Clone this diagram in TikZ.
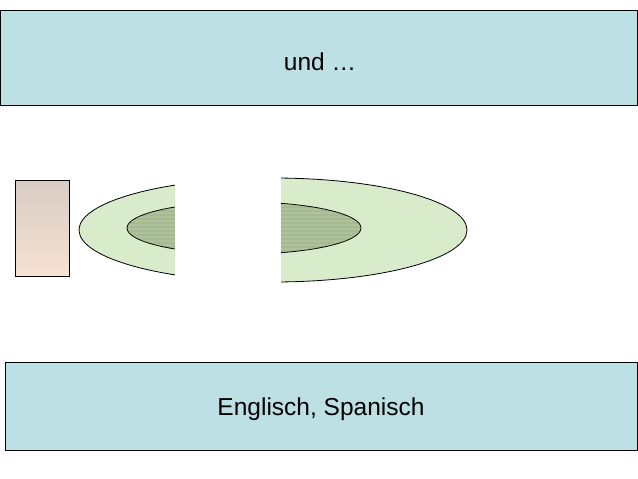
\documentclass[tikz,border=0pt]{standalone}
\usepackage{fontspec}
\setmainfont{Liberation Sans}
\usetikzlibrary{shapes.geometric}
\definecolor{boxblue}{HTML}{BCE0E4}
\definecolor{outergreen}{HTML}{D8ECCB}
\definecolor{innergreen}{HTML}{A5BA91}
\definecolor{rtop}{HTML}{D8CCC4}
\definecolor{rbot}{HTML}{F6E2D2}
\begin{document}
\begin{tikzpicture}[x=1pt,y=-1pt,
  band/.style={draw=black,line width=0.9pt,fill=boxblue,inner sep=0pt},
  label/.style={font=\fontsize{24.5}{29}\selectfont,inner sep=0pt},
  ell/.style={ellipse,draw=black,line width=0.8pt,inner sep=0pt}]
\useasboundingbox (0,0) rectangle (638,479);
\node[band,minimum width=637pt,minimum height=95pt] (top) at (318.5,57.5) {};
\node[label] (toptext) at (320,62) {und …};
\node[band,minimum width=632pt,minimum height=88pt] (bot) at (321,406) {};
\node[label] (bottext) at (321,409) {Englisch, Spanisch};
\node[draw=black,line width=0.8pt,minimum width=54pt,minimum height=96pt,inner sep=0pt,top color=rtop,bottom color=rbot] (rect) at (42,228) {};
\node[ell,fill=outergreen,minimum width=388pt,minimum height=104pt] (outer) at (273,230) {};
\node[ell,fill=innergreen,minimum width=234pt,minimum height=52pt] (inner) at (244,228) {};
\begin{scope}
\clip (inner.center) ellipse [x radius=117pt, y radius=26pt];
\foreach \yy in {204,208,...,252} \fill[white,opacity=0.10] (120,\yy) rectangle (370,\yy+2);
\end{scope}
\fill[white] (175,174) rectangle (281,286);
\end{tikzpicture}
\end{document}
